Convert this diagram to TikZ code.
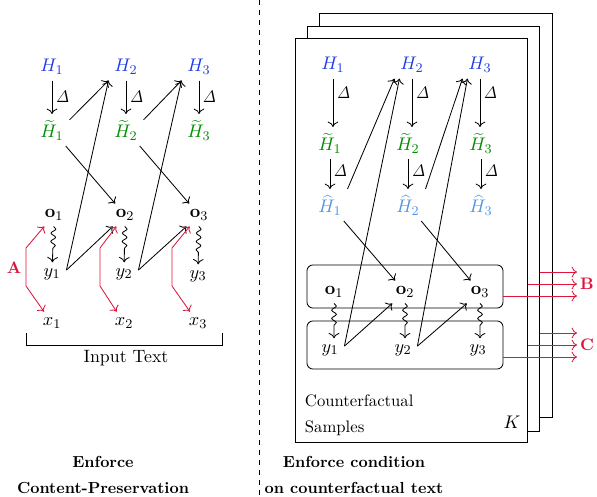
\documentclass[tikz,border=0pt]{standalone}
\usetikzlibrary{decorations.pathmorphing,calc,arrows.meta}
\definecolor{hblue}{RGB}{30,60,230}
\definecolor{hgreen}{RGB}{0,140,0}
\definecolor{hlight}{RGB}{80,150,230}
\definecolor{cred}{RGB}{220,20,60}
\begin{document}
\begin{tikzpicture}[x=0.6pt,y=-0.6pt,line width=0.5pt,
  >={To[length=3.2pt,width=6.4pt]},
  every node/.style={font=\fontsize{11.2}{13.5}\selectfont},
  hbn/.style={text=hblue},
  tgn/.style={text=hgreen},
  hln/.style={text=hlight},
  arr/.style={->},
  redarr/.style={->,draw=cred},
  redboth/.style={<->,draw=cred},
  squig/.style={->,decorate,decoration={snake,amplitude=1.4pt,segment length=5pt,post length=6pt}},
  dlt/.style={right,inner sep=2pt,font=\fontsize{10}{12}\selectfont},
  page/.style={draw,line width=0.6pt,fill=white,minimum width=139.8pt,minimum height=243pt,inner sep=0pt},
  rbox/.style={draw,rounded corners=3.5pt,minimum width=117.6pt,inner sep=0pt},
  rlab/.style={text=cred,font=\fontsize{10}{12}\selectfont\bfseries},
  caption/.style={font=\fontsize{9.6}{11.5}\selectfont\bfseries,align=center}]
\useasboundingbox (0,0) rectangle (597,497);

% ---------- left panel ----------
\node[hbn] (lH1) at (52,67) {$H_1$};
\node[hbn] (lH2) at (126,67) {$H_2$};
\node[hbn] (lH3) at (199,67) {$H_3$};
\node[tgn] (lT1) at (52,130) {$\widetilde{H}_1$};
\node[tgn] (lT2) at (126,130) {$\widetilde{H}_2$};
\node[tgn] (lT3) at (199,130) {$\widetilde{H}_3$};
\node (lo1) at (54,215) {$\mathbf{o}_1$};
\node (lo2) at (125,215) {$\mathbf{o}_2$};
\node (lo3) at (199,215) {$\mathbf{o}_3$};
\node (ly1) at (52,274) {$y_1$};
\node (ly2) at (124,274) {$y_2$};
\node (ly3) at (198,276) {$y_3$};
\node (lx1) at (52,323) {$x_1$};
\node (lx2) at (124,323) {$x_2$};
\node (lx3) at (198,323) {$x_3$};

\foreach \i in {1,2,3}{
  \draw[arr] (lH\i) -- node[dlt]{$\mathit{\Delta}$} (lT\i);
  \draw[squig] (lo\i) -- (ly\i);
}
\draw[arr] (lT1.30) -- (lH2.south west);
\draw[arr] (lT2.30) -- (lH3.south west);
\draw[arr] (lT1) -- (lo2);
\draw[arr] (lT2) -- (lo3);
\draw[arr] (ly1.15) -- (lH2.south west);
\draw[arr] (ly2.15) -- (lH3.south west);
\draw[arr] (ly1.15) -- (lo2);
\draw[arr] (ly2.15) -- (lo3);

\coordinate (la1) at (26,248); \coordinate (lb1) at (26,286);
\coordinate (la2) at (100,248); \coordinate (lb2) at (100,286);
\coordinate (la3) at (172,248); \coordinate (lb3) at (172,286);
\foreach \i in {1,2,3}{
  \draw[redboth] (lo\i) -- (la\i) -- (lb\i) -- (lx\i);
}
\node[rlab] (A) at (14,268) {A};

\coordinate (brl) at (26,333);
\coordinate (brr) at (222,333);
\draw (brl) -- ++(0,12) -| (brr);
\node[font=\fontsize{10.7}{13}\selectfont] (intext) at (126,358) {Input Text};

% divider
\coordinate (dtop) at (259,0);
\coordinate (dbot) at (259,497);
\draw[dashed] (dtop) -- (dbot);

% captions
\node[caption] (capl) at (103,475) {Enforce\\[4.2pt]Content-Preservation};
\node[caption] (capr) at (354,475) {Enforce condition\\[4.2pt]on counterfactual text};

% ---------- right panel ----------
\node[page] (pg3) at (436,215.5) {};
\node[page] (pg2) at (423.5,229) {};
\node[page] (pg1) at (411.5,240.5) {};

\node[rbox,minimum height=25.8pt] (obox) at (405,286.5) {};
\node[rbox,minimum height=28.8pt] (ybox) at (405,345) {};

\node[hbn] (rH1) at (333,65) {$H_1$};
\node[hbn] (rH2) at (412,65) {$H_2$};
\node[hbn] (rH3) at (480,65) {$H_3$};
\node[tgn] (rT1) at (330,143) {$\widetilde{H}_1$};
\node[tgn] (rT2) at (408,143) {$\widetilde{H}_2$};
\node[tgn] (rT3) at (481,143) {$\widetilde{H}_3$};
\node[hln] (rh1) at (330,205) {$\widehat{H}_1$};
\node[hln] (rh2) at (408,205) {$\widehat{H}_2$};
\node[hln] (rh3) at (481,205) {$\widehat{H}_3$};
\node (ro1) at (334,292) {$\mathbf{o}_1$};
\node (ro2) at (405,292) {$\mathbf{o}_2$};
\node (ro3) at (480,292) {$\mathbf{o}_3$};
\node (ry1) at (330,350) {$y_1$};
\node (ry2) at (403,350) {$y_2$};
\node (ry3) at (478,350) {$y_3$};

\foreach \i in {1,2,3}{
  \draw[arr] (rH\i.south) -- node[dlt,pos=0.3]{$\mathit{\Delta}$} (rH\i.south |- rT\i.north);
  \draw[arr] (rT\i) -- node[dlt,pos=0.4]{$\mathit{\Delta}$} (rh\i);
  \draw[squig] (ro\i.south) -- (ro\i.south |- ry\i.north);
}
\draw[arr] (rh1.north east) -- (rH2.south west);
\draw[arr] (rh2.north east) -- (rH3.south west);
\draw[arr] (rh1) -- (ro2);
\draw[arr] (rh2) -- (ro3);
\draw[arr] (ry1.15) -- ([xshift=3pt]rH2.south west);
\draw[arr] (ry2.15) -- ([xshift=3pt]rH3.south west);
\draw[arr] (ry1.15) -- (ro2);
\draw[arr] (ry2.15) -- (ro3);

\node[anchor=west,align=left,font=\fontsize{10}{12}\selectfont] (cf) at (299,415) {Counterfactual\\[3.6pt]Samples};
\node (K) at (512,422) {$K$};

\coordinate (Bt) at (577,272); \coordinate (Bm) at (577,284); \coordinate (Bb) at (577,296);
\coordinate (Ct) at (577,333); \coordinate (Cm) at (577,345); \coordinate (Cb) at (577,357);
\draw[redarr] (pg2.east |- Bt) -- (Bt);
\draw[redarr] (pg1.east |- Bm) -- (Bm);
\draw[redarr] (obox.east |- Bb) -- (Bb);
\draw[redarr] (pg2.east |- Ct) -- (Ct);
\draw[redarr] (pg1.east |- Cm) -- (Cm);
\draw[redarr] (ybox.east |- Cb) -- (Cb);
\node[rlab] (B) at (587,284) {B};
\node[rlab] (C) at (587,345) {C};
\end{tikzpicture}
\end{document}
